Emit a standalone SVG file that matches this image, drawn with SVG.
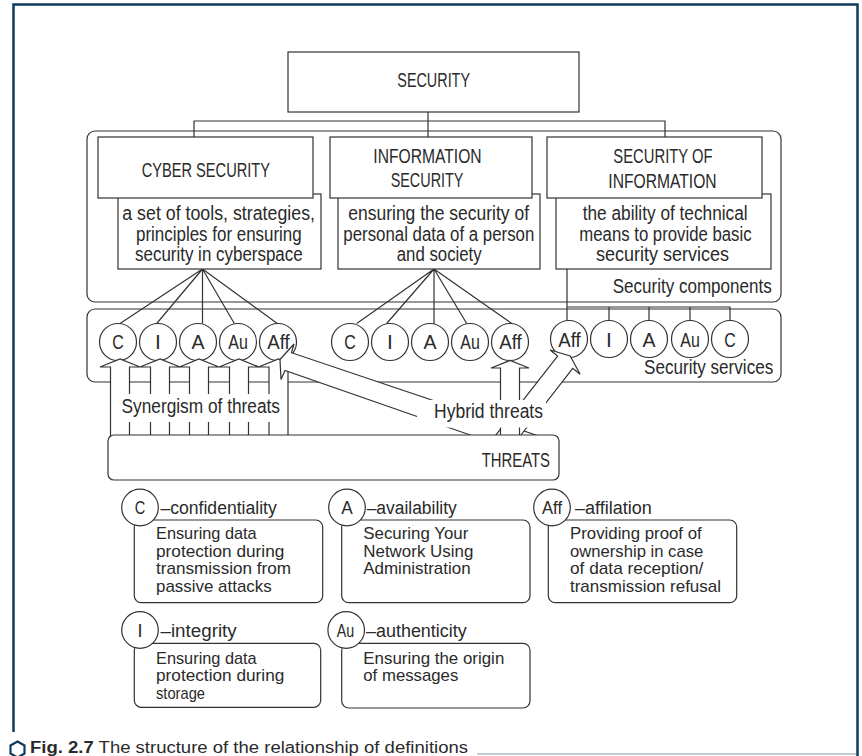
<svg xmlns="http://www.w3.org/2000/svg" width="862" height="756" viewBox="0 0 862 756">
<defs>
<style>
.ln{fill:none;stroke:#333;stroke-width:1.2}
.bx{fill:#fff;stroke:#333;stroke-width:1.2}
.ar{fill:#fff;stroke:#333;stroke-width:1.2;stroke-linejoin:miter}
.wh{fill:#fff;stroke:none}
text{font-family:"Liberation Sans",Arial,sans-serif;fill:#2a2a2a}
.h{font-size:21px}
.b{font-size:19.5px}
.s{font-size:18px}
.t{font-size:17px}
.c{text-anchor:middle}
</style>
</defs>
<rect width="862" height="756" fill="#fff"/>
<path d="M13.5,732 V4.5 H857.5 V756" fill="none" stroke="#0f3b5f" stroke-width="2.5"/>

<g id="security-components">
<rect class="bx" x="87" y="131" width="694" height="171" rx="8"/>
<text class="b" x="612.7" y="293" textLength="159" lengthAdjust="spacingAndGlyphs">Security components</text>
</g>
<g id="security-services">
<rect class="bx" x="87" y="309" width="694" height="73" rx="8"/>
<text class="b" x="644" y="373.5" textLength="129.3" lengthAdjust="spacingAndGlyphs">Security services</text>
</g>

<g id="connectors">
<path class="ln" d="M428,112 V137 M194,137 V121 H665 V137"/>
<path class="ln" d="M202.5,269 L120,323.5 M202.5,269 L156.7,323.5 M202.5,269 V323.5 M202.5,269 L234.3,323.5 M202.5,269 L278,324"/>
<path class="ln" d="M434,269 L356.7,323.5 M434,269 L386.7,323.5 M434,269 V324 M434,269 L466.7,323.5 M434,269 L511.7,323.5"/>
<path class="ln" d="M567,269 V320.5 M567,307 H730 V320.5 M609,307 V320.5 M649,307 V320.5 M690,307 V320.5"/>
</g>

<g id="security">
<rect class="bx" x="288" y="52" width="291" height="60"/>
<text class="h" x="397.3" y="87.3" textLength="72.7" lengthAdjust="spacingAndGlyphs">SECURITY</text>
</g>

<g id="cyber-security">
<rect class="bx" x="118" y="194" width="203" height="75"/>
<rect class="bx" x="98" y="137" width="215" height="61"/>
<text class="h" x="141.7" y="176.7" textLength="128.3" lengthAdjust="spacingAndGlyphs">CYBER SECURITY</text>
<text class="b" x="122.3" y="220" textLength="192.7" lengthAdjust="spacingAndGlyphs">a set of tools, strategies,</text>
<text class="b" x="136" y="240.7" textLength="165.7" lengthAdjust="spacingAndGlyphs">principles for ensuring</text>
<text class="b" x="135" y="261" textLength="167.7" lengthAdjust="spacingAndGlyphs">security in cyberspace</text>
</g>

<g id="information-security">
<rect class="bx" x="338" y="194" width="202" height="75"/>
<rect class="bx" x="330" y="137" width="202" height="61"/>
<text class="h" x="373.3" y="163.3" textLength="108.3" lengthAdjust="spacingAndGlyphs">INFORMATION</text>
<text class="h" x="390.7" y="187.3" textLength="72.7" lengthAdjust="spacingAndGlyphs">SECURITY</text>
<text class="b" x="348.3" y="220" textLength="180.7" lengthAdjust="spacingAndGlyphs">ensuring the security of</text>
<text class="b" x="343.3" y="240.7" textLength="191" lengthAdjust="spacingAndGlyphs">personal data of a person</text>
<text class="b" x="396.7" y="261" textLength="85" lengthAdjust="spacingAndGlyphs">and society</text>
</g>

<g id="security-of-information">
<rect class="bx" x="556" y="194" width="215" height="75"/>
<rect class="bx" x="547" y="137" width="215" height="61"/>
<text class="h" x="613.3" y="163.3" textLength="99.3" lengthAdjust="spacingAndGlyphs">SECURITY OF</text>
<text class="h" x="608.3" y="188.3" textLength="108.3" lengthAdjust="spacingAndGlyphs">INFORMATION</text>
<text class="b" x="582.7" y="220" textLength="165" lengthAdjust="spacingAndGlyphs">the ability of technical</text>
<text class="b" x="579.3" y="240.7" textLength="172.3" lengthAdjust="spacingAndGlyphs">means to provide basic</text>
<text class="b" x="596" y="261" textLength="133" lengthAdjust="spacingAndGlyphs">security services</text>
</g>

<g id="services-cyber">
<circle class="bx" cx="118" cy="342" r="18.5"/>
<circle class="bx" cx="158" cy="342" r="18.5"/>
<circle class="bx" cx="198" cy="342" r="18.5"/>
<circle class="bx" cx="238" cy="342" r="18.5"/>
<circle class="bx" cx="278" cy="342" r="18.5"/>
<text class="h c" x="118" y="349" textLength="11.5" lengthAdjust="spacingAndGlyphs">C</text>
<text class="h c" x="158" y="349">I</text>
<text class="h c" x="198" y="349" textLength="13" lengthAdjust="spacingAndGlyphs">A</text>
<text class="h c" x="238" y="349" textLength="19.5" lengthAdjust="spacingAndGlyphs">Au</text>
<text class="h c" x="278.5" y="349" textLength="22.5" lengthAdjust="spacingAndGlyphs">Aff</text>
</g>

<g id="services-information">
<circle class="bx" cx="350" cy="342" r="18.5"/>
<circle class="bx" cx="390" cy="342" r="18.5"/>
<circle class="bx" cx="430" cy="342" r="18.5"/>
<circle class="bx" cx="470" cy="342" r="18.5"/>
<circle class="bx" cx="510" cy="342" r="18.5"/>
<text class="h c" x="350" y="349" textLength="11.5" lengthAdjust="spacingAndGlyphs">C</text>
<text class="h c" x="390" y="349">I</text>
<text class="h c" x="430" y="349" textLength="13" lengthAdjust="spacingAndGlyphs">A</text>
<text class="h c" x="470" y="349" textLength="19.5" lengthAdjust="spacingAndGlyphs">Au</text>
<text class="h c" x="510.5" y="349" textLength="22.5" lengthAdjust="spacingAndGlyphs">Aff</text>
</g>

<g id="services-soi">
<circle class="bx" cx="569" cy="339" r="18.5"/>
<circle class="bx" cx="609" cy="339" r="18.5"/>
<circle class="bx" cx="649" cy="339" r="18.5"/>
<circle class="bx" cx="690" cy="339" r="18.5"/>
<circle class="bx" cx="730" cy="339" r="18.5"/>
<text class="h c" x="569.5" y="346.5" textLength="22.5" lengthAdjust="spacingAndGlyphs">Aff</text>
<text class="h c" x="609" y="346.5">I</text>
<text class="h c" x="649" y="346.5" textLength="13" lengthAdjust="spacingAndGlyphs">A</text>
<text class="h c" x="690" y="346.5" textLength="19.5" lengthAdjust="spacingAndGlyphs">Au</text>
<text class="h c" x="730" y="346.5" textLength="11.5" lengthAdjust="spacingAndGlyphs">C</text>
</g>

<g id="threat-arrows">
<polygon class="ar" points="110.5,437 110.5,367 100,367 120,359 140,367 129.5,367 129.5,437"/>
<polygon class="ar" points="150.5,437 150.5,367 140,367 160,359 180,367 169.5,367 169.5,437"/>
<polygon class="ar" points="189.5,437 189.5,367 179.5,367 199,359 219,367 208.5,367 208.5,437"/>
<polygon class="ar" points="229.5,437 229.5,367 219,367 239,359 259,367 248.5,367 248.5,437"/>
<polygon class="ar" points="269,437 269,367 258.5,367 278.5,359 298.5,367 288,367 288,437"/>
<polygon class="ar" points="280,359.5 294,344 291.5,352.7 541.7,437 475.9,437 285,370.5 281,379.5"/>
<rect class="wh" x="112" y="394" width="175" height="28"/>
<text class="b" x="121.5" y="412.5" textLength="158.5" lengthAdjust="spacingAndGlyphs">Synergism of threats</text>
<polygon class="ar" points="570.2,356 580.1,374.3 572.7,368.3 519.4,437 494.4,437 557.6,356 550.2,350"/>
<polygon class="ar" points="500.5,437 500.5,368 491,368 510,360.5 529,368 519.5,368 519.5,437"/>
<rect class="wh" x="417" y="400" width="129" height="27.5"/>
<text class="b" x="434" y="418" textLength="109" lengthAdjust="spacingAndGlyphs">Hybrid threats</text>
</g>

<g id="threats">
<rect class="bx" x="108" y="435" width="451" height="45" rx="6"/>
<text class="h" x="481.7" y="467" textLength="68.3" lengthAdjust="spacingAndGlyphs">THREATS</text>
</g>

<g id="legend-c">
<rect class="bx" x="134.3" y="520" width="188.4" height="82.7" rx="7"/>
<circle class="bx" cx="140" cy="507.5" r="18.3"/>
<text class="s c" x="140" y="514" textLength="10.5" lengthAdjust="spacingAndGlyphs">C</text>
<text class="s" x="160.5" y="513.5" textLength="116.2" lengthAdjust="spacingAndGlyphs">–confidentiality</text>
<text class="t" x="156" y="539.3" textLength="100.7" lengthAdjust="spacingAndGlyphs">Ensuring data</text>
<text class="t" x="156" y="556.5" textLength="128.3" lengthAdjust="spacingAndGlyphs">protection during</text>
<text class="t" x="156" y="574" textLength="135" lengthAdjust="spacingAndGlyphs">transmission from</text>
<text class="t" x="156" y="591.5" textLength="115.7" lengthAdjust="spacingAndGlyphs">passive attacks</text>
</g>

<g id="legend-a">
<rect class="bx" x="341.7" y="520" width="188.3" height="82.7" rx="7"/>
<circle class="bx" cx="347" cy="507.5" r="18.3"/>
<text class="s c" x="347" y="514" textLength="11.5" lengthAdjust="spacingAndGlyphs">A</text>
<text class="s" x="366.7" y="513.5" textLength="90" lengthAdjust="spacingAndGlyphs">–availability</text>
<text class="t" x="363.3" y="539.3" textLength="105" lengthAdjust="spacingAndGlyphs">Securing Your</text>
<text class="t" x="363.3" y="556.5" textLength="110" lengthAdjust="spacingAndGlyphs">Network Using</text>
<text class="t" x="363.3" y="574" textLength="107.3" lengthAdjust="spacingAndGlyphs">Administration</text>
</g>

<g id="legend-aff">
<rect class="bx" x="548.3" y="520" width="188.4" height="82.7" rx="7"/>
<circle class="bx" cx="552" cy="507.5" r="18.3"/>
<text class="s c" x="552" y="514" textLength="20" lengthAdjust="spacingAndGlyphs">Aff</text>
<text class="s" x="575" y="513.5" textLength="76.7" lengthAdjust="spacingAndGlyphs">–affilation</text>
<text class="t" x="570" y="539.3" textLength="131.7" lengthAdjust="spacingAndGlyphs">Providing proof of</text>
<text class="t" x="570" y="556.5" textLength="133.3" lengthAdjust="spacingAndGlyphs">ownership in case</text>
<text class="t" x="570" y="574" textLength="133.3" lengthAdjust="spacingAndGlyphs">of data reception/</text>
<text class="t" x="570" y="591.5" textLength="151" lengthAdjust="spacingAndGlyphs">transmission refusal</text>
</g>

<g id="legend-i">
<rect class="bx" x="134.3" y="643.3" width="186.4" height="64" rx="7"/>
<circle class="bx" cx="140" cy="630" r="18.3"/>
<text class="s c" x="140" y="636.5">I</text>
<text class="s" x="160.5" y="636.7" textLength="76.2" lengthAdjust="spacingAndGlyphs">–integrity</text>
<text class="t" x="156" y="663.5" textLength="100.7" lengthAdjust="spacingAndGlyphs">Ensuring data</text>
<text class="t" x="156" y="681" textLength="128.3" lengthAdjust="spacingAndGlyphs">protection during</text>
<text class="t" x="156" y="698.5" textLength="49" lengthAdjust="spacingAndGlyphs">storage</text>
</g>

<g id="legend-au">
<rect class="bx" x="341.7" y="643.3" width="188.3" height="64.7" rx="7"/>
<circle class="bx" cx="346.2" cy="630" r="18.3"/>
<text class="s c" x="345.5" y="636.5" textLength="17.5" lengthAdjust="spacingAndGlyphs">Au</text>
<text class="s" x="366" y="636.7" textLength="100.7" lengthAdjust="spacingAndGlyphs">–authenticity</text>
<text class="t" x="363.3" y="663.5" textLength="141" lengthAdjust="spacingAndGlyphs">Ensuring the origin</text>
<text class="t" x="363.3" y="681" textLength="95" lengthAdjust="spacingAndGlyphs">of messages</text>
</g>

<g id="caption">
<polygon points="17.5,741.5 24.5,745.5 24.5,753.5 17.5,757.5 10.5,753.5 10.5,745.5" fill="none" stroke="#0f3b5f" stroke-width="2.2"/>
<text x="30" y="752.5" font-size="16" textLength="438" lengthAdjust="spacingAndGlyphs"><tspan font-weight="bold">Fig. 2.7</tspan> The structure of the relationship of definitions</text>
<path d="M477,754 H856" stroke="#a9bccb" stroke-width="1.5" fill="none"/>
</g>
</svg>
